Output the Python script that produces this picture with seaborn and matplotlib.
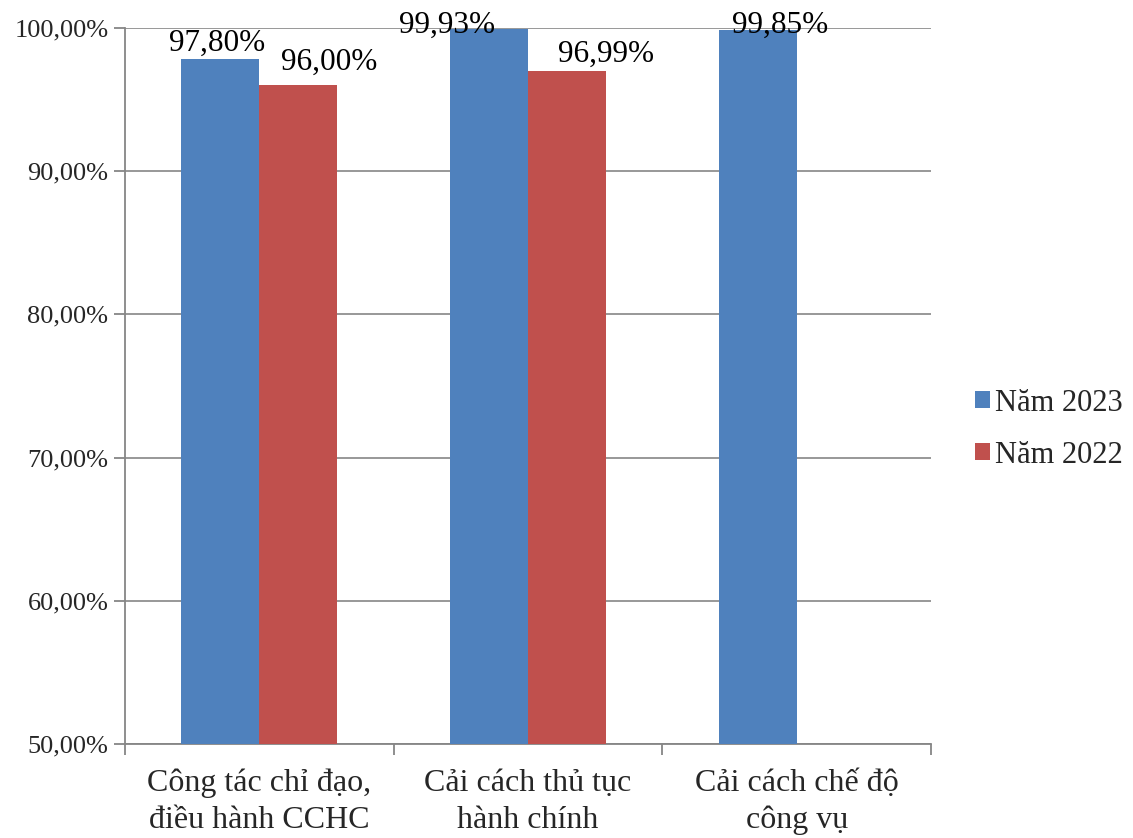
import matplotlib
matplotlib.use("Agg")
import matplotlib.pyplot as plt
from matplotlib.ticker import FixedLocator, FuncFormatter
import seaborn as sns
import pandas as pd

# Chart data
categories = ["Công tác chỉ đạo,\nđiều hành CCHC",
              "Cải cách thủ tục\nhành chính",
              "Cải cách chế độ\ncông vụ"]
series_names = ["Năm 2023", "Năm 2022"]
values_2023 = [97.80, 99.93, 99.85]
values_2022 = [96.00, 96.99, None]
y_ticks = [50, 60, 70, 80, 90, 100]
colors = ["#4F81BD", "#C0504D"]

# Hand-placed value label offsets (pixels) per series, per category
label_offsets = {
    "Năm 2023": [(-3, 9), (-42, -4), (22, -3)],
    "Năm 2022": [(31, 15), (39, 9), (0, 9)],
}

rows = []
for cat, v in zip(categories, values_2023):
    rows.append({"cat": cat, "series": series_names[0], "value": v})
for cat, v in zip(categories, values_2022):
    if v is not None:
        rows.append({"cat": cat, "series": series_names[1], "value": v})
df = pd.DataFrame(rows)

sns.set_theme(style="white")
plt.rcParams["font.family"] = ["Liberation Serif", "DejaVu Serif"]

fig = plt.figure(figsize=(11.33, 8.38), dpi=100)
ax = fig.add_axes([0.1103, 0.1122, 0.7114, 0.8544])

sns.barplot(data=df, x="cat", y="value", hue="series",
            order=categories, hue_order=series_names,
            palette=colors, width=0.58, saturation=1,
            errorbar=None, ax=ax, legend=True, zorder=3,
            linewidth=0, edgecolor="none")

ax.set_ylim(50, 100)
ax.set_xlim(-0.5, 2.5)
ax.yaxis.set_major_locator(FixedLocator(y_ticks))
ax.yaxis.set_major_formatter(FuncFormatter(lambda v, p: f"{v:.2f}%".replace(".", ",")))
ax.grid(axis="y", color="#868686", linewidth=1.2, zorder=0)
ax.set_axisbelow(True)

for side in ["top", "right"]:
    ax.spines[side].set_visible(False)
for side in ["left", "bottom"]:
    ax.spines[side].set_color("#868686")
    ax.spines[side].set_linewidth(1.3)

ax.set_xlabel("")
ax.set_ylabel("")
ax.tick_params(axis="y", which="major", length=8, width=1.3, color="#868686",
               direction="out", labelsize=19, pad=4, left=True)
ax.set_xticks(range(len(categories)))
ax.set_xticklabels(categories, fontsize=23, linespacing=1.35)
ax.tick_params(axis="x", which="major", length=0, pad=18)
ax.xaxis.set_minor_locator(FixedLocator([-0.5, 0.5, 1.5, 2.5]))
ax.tick_params(axis="x", which="minor", length=8, width=1.3, color="#868686",
               direction="out", bottom=True)

# Value labels above each bar
for container, name in zip(ax.containers, series_names):
    offsets = label_offsets[name]
    for i, bar in enumerate(container):
        h = bar.get_height()
        if h != h:
            continue
        x = bar.get_x() + bar.get_width() / 2
        dx, dy = offsets[i]
        ax.annotate(f"{h:.2f}%".replace(".", ","), xy=(x, h),
                    xytext=(dx, dy), textcoords="offset pixels",
                    ha="center", va="baseline", fontsize=22.5, color="black",
                    annotation_clip=False, zorder=5)

leg = ax.legend(loc="center left", bbox_to_anchor=(0.8605, 0.488),
                bbox_transform=fig.transFigure, frameon=False,
                fontsize=22, handlelength=0.5, handleheight=0.5,
                handletextpad=0.15, labelspacing=0.75, borderaxespad=0,
                borderpad=0)

fig.savefig("out.png", dpi=100, facecolor="white")
